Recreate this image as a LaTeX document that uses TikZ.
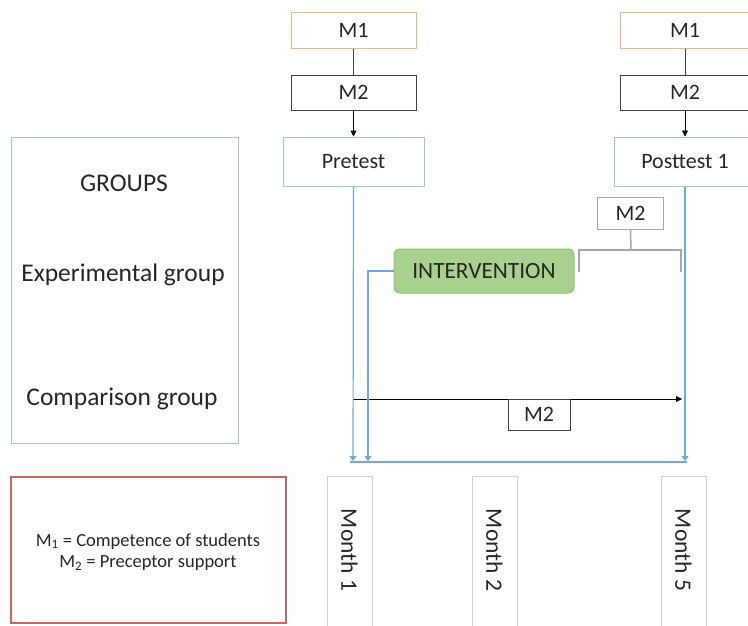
\documentclass[tikz,border=0pt]{standalone}
\usepackage{fontspec}
\setmainfont{Carlito}
\usetikzlibrary{arrows.meta}

\definecolor{mOrange}{HTML}{F4B183}
\definecolor{mDark}{HTML}{404040}
\definecolor{mBlue}{HTML}{9DC3E6}
\definecolor{lineBlue}{HTML}{6FA8DC}
\definecolor{ivFill}{HTML}{A9D18E}
\definecolor{ivDraw}{HTML}{8CC06A}
\definecolor{bracketGray}{HTML}{A6A6A6}
\definecolor{legendRed}{HTML}{C96565}
\definecolor{monthGray}{HTML}{D0D0D0}
\definecolor{txt}{HTML}{262626}

\begin{document}
\begin{tikzpicture}[x=1pt,y=-1pt,
  box/.style={draw, line width=1pt, inner sep=0pt, text=txt,
    font=\fontsize{22}{22}\selectfont},
  mbox/.style={box, draw=mOrange},
  dbox/.style={box, draw=mDark},
  bbox/.style={box, draw=mBlue},
  gbox/.style={box, draw=bracketGray},
  monthbox/.style={draw=monthGray, line width=1pt, inner sep=0pt,
    minimum width=45pt, minimum height=170pt},
  monthtext/.style={rotate=-90, text=txt, font=\fontsize{23.5}{23.5}\selectfont},
  grouptext/.style={text=txt, font=\fontsize{25.5}{25.5}\selectfont},
  blackarrow/.style={draw=black, line width=0.8pt, -{Triangle[length=6pt,width=6pt]}},
  blueline/.style={draw=lineBlue, line width=1.2pt},
  bluearrow/.style={blueline, -{Triangle[length=5pt,width=7pt]}},
  bracket/.style={draw=bracketGray, line width=1.5pt}
]
\useasboundingbox (0,0) rectangle (748,625);
\clip (0,0) rectangle (748,625);

% measurement column before the study
\node[mbox, minimum width=125pt, minimum height=36pt] (m1a) at (353.5,30) {M1};
\node[dbox, minimum width=125pt, minimum height=35pt] (m2a) at (353.5,92.5) {M2};
\node[bbox, minimum width=141pt, minimum height=49pt] (pre) at (353.5,161.5) {Pretest};

% measurement column after the study
\node[mbox, minimum width=130pt, minimum height=36pt] (m1b) at (685,30) {M1};
\node[dbox, minimum width=130pt, minimum height=35pt] (m2b) at (685,92.5) {M2};
\node[bbox, minimum width=141pt, minimum height=49pt] (post) at (685,161.5) {Posttest 1};

\draw[mDark, line width=0.8pt] (m1a) -- (m2a);
\draw[blackarrow] (m2a) -- (pre);
\draw[mDark, line width=0.8pt] (m1b) -- (m2b);
\draw[blackarrow] (m2b) -- (post);

% groups panel
\node[draw=mBlue, line width=1pt, minimum width=227pt, minimum height=306pt, inner sep=0pt]
  (groups) at (124.5,290) {};
\node[grouptext] (gtitle) at (124,183) {GROUPS};
\node[grouptext] (gexp) at (123,275) {Experimental group};
\node[grouptext] (gcmp) at (122,399) {Comparison group};

% intervention and its M2 measurement
\node[draw=ivDraw, fill=ivFill, line width=1pt, rounded corners=6pt,
  minimum width=180pt, minimum height=44pt, inner sep=0pt, text=txt,
  font=\fontsize{23.3}{23.3}\selectfont] (iv) at (484,271) {INTERVENTION};
\node[gbox, minimum width=66pt, minimum height=32pt] (m2c) at (630.5,213) {M2};
\coordinate (bl) at (579,272);
\coordinate (br) at (681,272);
\draw[bracket] (m2c.south) -- (631,250);
\draw[bracket] (bl) -- (579,250) -- (681,250) -- (br);

% comparison group timeline
\coordinate (cstart) at (353,399);
\coordinate (cend) at (682,399);
\draw[blackarrow] (cstart) -- (cend);
\node[dbox, minimum width=62pt, minimum height=31pt] (m2d) at (539,414.5) {M2};

% time axis
\coordinate (ta) at (350,462);
\coordinate (tb) at (687,462);
\coordinate (tpre) at (353,461);
\coordinate (tiv) at (368,461);
\coordinate (tpost) at (685,461);
\draw[bluearrow] (pre.south) -- (tpre);
\draw[bluearrow] (iv.west) -- (368,271) -- (tiv);
\draw[bluearrow] (post.south) -- (tpost);
\draw[blueline] (ta) -- (tb);

% months
\node[monthbox] (mo1) at (349.5,561) {};
\node[monthbox] (mo2) at (494.5,561) {};
\node[monthbox] (mo5) at (683.5,561) {};
\node[monthtext] (mt1) at (349.5,550) {Month 1};
\node[monthtext] (mt2) at (494.5,550) {Month 2};
\node[monthtext] (mt5) at (683.5,550) {Month 5};

% legend
\node[draw=legendRed, line width=1.2pt, minimum width=275pt, minimum height=146pt,
  inner sep=0pt] (legend) at (148.5,550) {};
\node[text=txt, align=center, font=\fontsize{18.5}{21.5}\selectfont] (ltext) at (148,552)
  {M\textsubscript{1} = Competence of students\\M\textsubscript{2} = Preceptor support};
\end{tikzpicture}
\end{document}
